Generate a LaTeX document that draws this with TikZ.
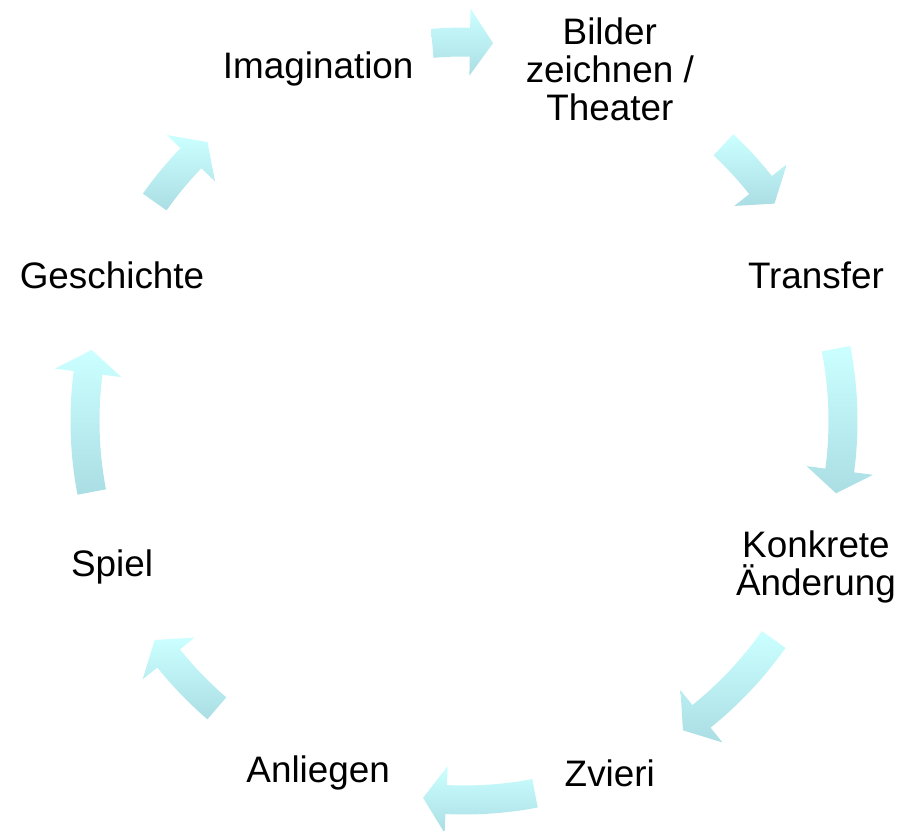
\documentclass[tikz,border=0pt]{standalone}
\usepackage{fontspec}
\setmainfont{Liberation Sans}
\usepackage{tikz}
\definecolor{arrtop}{RGB}{204,255,255}
\definecolor{arrbot}{RGB}{170,222,228}

\begin{document}
\begin{tikzpicture}[x=1bp,y=1bp,
    lbl/.style={align=center,inner sep=0pt,font=\fontsize{37}{38}\selectfont},
    cyc/.style={draw=none,top color=arrtop,bottom color=arrbot}]
      \useasboundingbox (-464,-410) rectangle (439,421);

      \node[lbl] (img) at (112.5:381) {Imagination};
      \node[lbl] (bild) at (67.5:381) {Bilder\\zeichnen /\\Theater};
      \node[lbl] (trans) at (22.5:381) {Transfer};
      \node[lbl] (konk) at (-22.5:381) {Konkrete\\Änderung};
      \node[lbl] (zvi) at (-67.5:381) {Zvieri};
      \node[lbl] (anl) at (-112.5:381) {Anliegen};
      \node[lbl] (spiel) at (-157.5:381) {Spiel};
      \node[lbl] (gesch) at (157.5:381) {Geschichte};

      % arc arrows, clockwise from tail angle to tip angle
      \foreach \a/\b in {94.8/85.6, 46.8/35, 11/-11, -35.2/-54.7,
          -79.2/-96.2, -130.7/-144.7, -169.2/-190.8, -215.3/-227.4}{
        \pgfmathsetmacro\c{\b+3.5}
        \shade[cyc] (\a:393.5) arc[start angle=\a,end angle=\c,radius=393.5]
          -- (\c:412.5) -- (\b:379) -- (\c:345.5) -- (\c:364.5)
          arc[start angle=\c,end angle=\a,radius=364.5] -- cycle;
      }
    \end{tikzpicture}
\end{document}
